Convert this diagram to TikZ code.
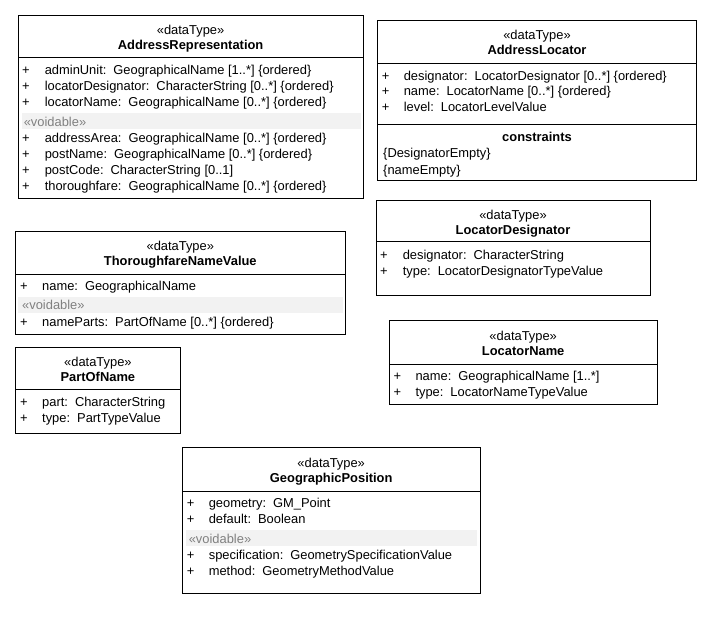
\documentclass[tikz,border=0pt]{standalone}
\usepackage{fontspec}
\setmainfont{Liberation Sans}
\newcommand{\tgap}{\hspace{7pt}}
\begin{document}
\begin{tikzpicture}[x=1pt,y=-1pt,line width=1pt,
  every node/.style={inner sep=0pt,yshift=-1.5pt,font=\fontsize{12.9}{15}\selectfont},
  stereo/.style={anchor=mid},
  cname/.style={anchor=mid,font=\fontsize{12.9}{15}\selectfont\bfseries},
  attr/.style={anchor=mid west},
  plus/.style={anchor=mid},
  voidtxt/.style={anchor=mid west,text=black!50},
  band/.style={fill=black!5,draw=none}]
\useasboundingbox (0,0) rectangle (713,620);

% AddressRepresentation
\fill[band] (21.7,113.3) rectangle (360.7,129.3);
\draw (18.3,15.3) rectangle (363,199);
\draw (18.3,57.7) -- (363,57.7);
\node[stereo] (ar-st) at (190.6,30.7) {«dataType»};
\node[cname] (ar-nm) at (190.6,45) {AddressRepresentation};
\foreach \k/\y/\t in {1/70.8/{adminUnit:\tgap GeographicalName [1..*] \{ordered\}},
    2/86.7/{locatorDesignator:\tgap CharacterString [0..*] \{ordered\}},
    3/102.5/{locatorName:\tgap GeographicalName [0..*] \{ordered\}},
    4/138.5/{addressArea:\tgap GeographicalName [0..*] \{ordered\}},
    5/154.5/{postName:\tgap GeographicalName [0..*] \{ordered\}},
    6/170.5/{postCode:\tgap CharacterString [0..1]},
    7/186.3/{thoroughfare:\tgap GeographicalName [0..*] \{ordered\}}}
  {\node[plus] (ar-p\k) at (26,\y) {+};
   \node[attr] (ar-a\k) at (44.3,\y) {\t};}
\node[voidtxt] (ar-vd) at (23.3,122) {«voidable»};

% AddressLocator
\draw (377.3,20.3) rectangle (696.7,181);
\draw (377.3,63.3) -- (696.7,63.3);
\draw (377.3,124.3) -- (696.7,124.3);
\node[stereo] (al-st) at (537,35.7) {«dataType»};
\node[cname] (al-nm) at (537,50) {AddressLocator};
\foreach \k/\y/\t in {1/76/{designator:\tgap LocatorDesignator [0..*] \{ordered\}},
    2/91.7/{name:\tgap LocatorName [0..*] \{ordered\}},
    3/107.3/{level:\tgap LocatorLevelValue}}
  {\node[plus] (al-p\k) at (385.7,\y) {+};
   \node[attr] (al-a\k) at (403.3,\y) {\t};}
\node[cname] (al-cs) at (537,137.7) {constraints};
\node[attr] (al-c1) at (382.7,153.3) {\{DesignatorEmpty\}};
\node[attr] (al-c2) at (382.7,170) {\{nameEmpty\}};

% LocatorDesignator
\draw (376,200.3) rectangle (650,295.7);
\draw (376,241.7) -- (650,241.7);
\node[stereo] (ld-st) at (513,215.7) {«dataType»};
\node[cname] (ld-nm) at (513,230) {LocatorDesignator};
\foreach \k/\y/\t in {1/255/{designator:\tgap CharacterString},
    2/271/{type:\tgap LocatorDesignatorTypeValue}}
  {\node[plus] (ld-p\k) at (384,\y) {+};
   \node[attr] (ld-a\k) at (402.3,\y) {\t};}

% ThoroughfareNameValue
\fill[band] (18.3,296.7) rectangle (343.3,313.3);
\draw (15.7,231.7) rectangle (345,334.3);
\draw (15.7,274.3) -- (345,274.3);
\node[stereo] (tn-st) at (180.3,246.7) {«dataType»};
\node[cname] (tn-nm) at (180.3,261) {ThoroughfareNameValue};
\foreach \k/\y/\t in {1/286.7/{name:\tgap GeographicalName},
    2/322.7/{nameParts:\tgap PartOfName [0..*] \{ordered\}}}
  {\node[plus] (tn-p\k) at (24,\y) {+};
   \node[attr] (tn-a\k) at (41.7,\y) {\t};}
\node[voidtxt] (tn-vd) at (21.7,305.5) {«voidable»};

% LocatorName
\draw (389,321) rectangle (657.3,404.3);
\draw (389,365) -- (657.3,365);
\node[stereo] (ln-st) at (523.2,336.7) {«dataType»};
\node[cname] (ln-nm) at (523.2,351) {LocatorName};
\foreach \k/\y/\t in {1/376.7/{name:\tgap GeographicalName [1..*]},
    2/392.7/{type:\tgap LocatorNameTypeValue}}
  {\node[plus] (ln-p\k) at (397.3,\y) {+};
   \node[attr] (ln-a\k) at (415,\y) {\t};}

% PartOfName
\draw (15,347.3) rectangle (180.7,433.3);
\draw (15,390) -- (180.7,390);
\node[stereo] (pn-st) at (97.9,362.7) {«dataType»};
\node[cname] (pn-nm) at (97.9,377.3) {PartOfName};
\foreach \k/\y/\t in {1/402.3/{part:\tgap CharacterString},
    2/418.7/{type:\tgap PartTypeValue}}
  {\node[plus] (pn-p\k) at (24,\y) {+};
   \node[attr] (pn-a\k) at (41.7,\y) {\t};}

% GeographicPosition
\fill[band] (185.7,530.3) rectangle (476.7,546.3);
\draw (182.3,448) rectangle (480,593.7);
\draw (182.3,491.3) -- (480,491.3);
\node[stereo] (gp-st) at (331.2,463.7) {«dataType»};
\node[cname] (gp-nm) at (331.2,478) {GeographicPosition};
\foreach \k/\y/\t in {1/503.7/{geometry:\tgap GM\_Point},
    2/519.7/{default:\tgap Boolean},
    3/555.3/{specification:\tgap GeometrySpecificationValue},
    4/571.3/{method:\tgap GeometryMethodValue}}
  {\node[plus] (gp-p\k) at (190.7,\y) {+};
   \node[attr] (gp-a\k) at (208.3,\y) {\t};}
\node[voidtxt] (gp-vd) at (188.3,539) {«voidable»};

\end{tikzpicture}
\end{document}
